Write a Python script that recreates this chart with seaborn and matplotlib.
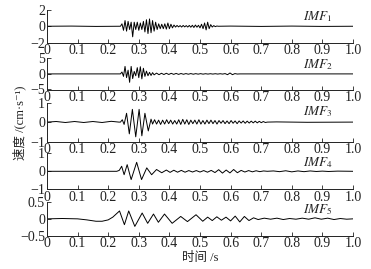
import numpy as np
import pandas as pd
import matplotlib
matplotlib.use("Agg")
import matplotlib.pyplot as plt
import seaborn as sns

# ---------------- data ----------------
x_ticks = [0.0, 0.1, 0.2, 0.3, 0.4, 0.5, 0.6, 0.7, 0.8, 0.9, 1.0]
x_tick_labels = ["0", "0.1", "0.2", "0.3", "0.4", "0.5", "0.6", "0.7", "0.8", "0.9", "1.0"]
panel_names = ["IMF_1", "IMF_2", "IMF_3", "IMF_4", "IMF_5"]
y_limits = [(-2, 2), (-5, 5), (-1, 1), (-1, 1), (-0.5, 0.5)]
y_ticks = [[-2, 0, 2], [-5, 0, 5], [-1, 0, 1], [-1, 0, 1], [-0.5, 0, 0.5]]
y_tick_labels = [["\u22122", "0", "2"], ["\u22125", "0", "5"], ["\u22121", "0", "1"],
                 ["\u22121", "0", "1"], ["\u22120.5", "0", "0.5"]]

# IMF1
imf1_pre_t = [0.0, 0.08, 0.16, 0.235]
imf1_pre_v = [0.0, 0.02, -0.02, 0.0]
imf1_burst_span = (0.24, 0.56)
imf1_burst_v = [0.0, 0.3, -0.5, 0.7, -0.6, 0.6, -0.4, 0.5, -1.3, 0.5, -0.4, 0.5, -0.5,
                0.4, -0.4, 0.6, -0.7, 0.8, -0.9, 0.9, -0.8, 0.7, -0.6, 0.5, -0.4, 0.3,
                -0.3, 0.25, -0.3, 0.3, -0.35, 0.4, -0.3, 0.25, -0.2, 0.15, -0.1, 0.1,
                -0.08, 0.08, -0.1, 0.1, -0.08, 0.08, -0.1, 0.1, -0.12, 0.12, -0.15,
                0.15, -0.12, 0.12, -0.2, 0.25, -0.3, 0.4, -0.45, 0.5, -0.3, 0.2, -0.1,
                0.08, -0.05, 0.03, 0.0]
imf1_tail_t = [0.6, 0.7, 0.8, 0.9, 1.0]
imf1_tail_v = [0.02, -0.02, 0.02, -0.02, 0.0]

# IMF2
imf2_pre_t = [0.0, 0.1, 0.2, 0.235]
imf2_pre_v = [0.0, 0.0, 0.0, 0.0]
imf2_burst_span = (0.24, 0.345)
imf2_burst_v = [0.0, 0.6, -0.8, 2.4, -1.2, 1.2, -2.7, 2.4, -1.5, 0.8, -0.6, 2.0, -1.2,
                2.3, -1.6, 1.8, -0.8, 0.9, -0.6, 0.5, -0.5, 0.4]
imf2_ripple_span = (0.35, 0.63)
imf2_ripple_v = [-0.3, 0.25, -0.25, 0.2, -0.2, 0.2, -0.18, 0.18, -0.15, 0.15, -0.15, 0.12,
                 -0.12, 0.1, -0.1, 0.1, -0.1, 0.08, -0.08, 0.08, -0.08, 0.06, -0.06,
                 0.06, -0.06, 0.06, -0.06, 0.06, -0.06, 0.1, -0.25, 0.3, -0.25, 0.1, -0.05, 0.0]
imf2_tail_t = [0.7, 0.85, 1.0]
imf2_tail_v = [0.0, 0.0, 0.0]

# IMF3
imf3_pre_t = [0.0, 0.03, 0.06, 0.09, 0.12, 0.15, 0.18, 0.21, 0.235]
imf3_pre_v = [0.0, 0.03, -0.02, 0.03, -0.02, 0.03, -0.02, 0.04, 0.0]
imf3_burst_t = [0.240, 0.246, 0.252, 0.260, 0.269, 0.279, 0.290, 0.301, 0.310, 0.320,
                0.331, 0.340]
imf3_burst_v = [0.0, 0.12, -0.12, 0.45, -0.6, 0.65, -0.75, 0.65, -0.7, 0.45, -0.45, 0.15]
imf3_ripple_span = (0.345, 0.72)
imf3_ripple_v = [-0.1, 0.12, -0.1, 0.1, -0.12, 0.1, -0.1, 0.12, -0.08, 0.1,
                 -0.1, 0.08, -0.1, 0.12, -0.12, 0.14, -0.1, 0.12, -0.12, 0.1,
                 -0.08, 0.1, -0.1, 0.12, -0.1, 0.08, -0.1, 0.1, -0.08, 0.1,
                 -0.08, 0.08, -0.1, 0.08, -0.06, 0.08, -0.08, 0.06, -0.08, 0.08,
                 -0.06, 0.06, -0.08, 0.06, -0.05, 0.06, -0.06, 0.05, -0.05, 0.05,
                 -0.04, 0.05, -0.04, 0.04, -0.03, 0.03, -0.02, 0.0]
imf3_tail_t = [0.75, 0.85, 1.0]
imf3_tail_v = [0.01, -0.01, 0.0]

# IMF4
imf4_pre_t = [0.0, 0.1, 0.2, 0.228]
imf4_pre_v = [0.0, 0.0, 0.0, 0.0]
imf4_burst_t = [0.236, 0.244, 0.252, 0.262, 0.275, 0.293, 0.309, 0.326, 0.342, 0.358,
                0.375]
imf4_burst_v = [0.05, 0.28, -0.19, 0.37, -0.46, 0.5, -0.46, 0.19, -0.19, 0.1, -0.08]
imf4_ripple_span = (0.39, 0.72)
imf4_ripple_v = [0.07, -0.06, 0.06, -0.05, 0.05, -0.05, 0.04, -0.04, 0.04, -0.04, 0.04,
                 -0.05, 0.05, -0.07, 0.09, -0.1, 0.07, -0.09, 0.1, -0.08, 0.05, -0.04,
                 0.04, -0.03, 0.03, -0.02, 0.02, 0.0]
imf4_tail_t = [0.74, 0.76, 0.78, 0.80, 0.82, 0.84, 0.86, 0.88, 0.90, 0.92, 0.95, 1.0]
imf4_tail_v = [0.02, -0.02, 0.03, -0.03, 0.02, -0.02, 0.02, -0.01, 0.01, -0.01, 0.01, 0.0]

# IMF5
imf5_main_t = [0.0, 0.05, 0.10, 0.13, 0.16, 0.18, 0.20, 0.215, 0.237, 0.253, 0.267,
               0.287, 0.311, 0.329, 0.348, 0.364, 0.384, 0.409, 0.437, 0.459, 0.487,
               0.509, 0.525, 0.54, 0.555, 0.57, 0.585, 0.60, 0.615, 0.63, 0.645, 0.66,
               0.675, 0.69]
imf5_main_v = [0.0, 0.01, 0.0, -0.03, -0.07, -0.07, -0.03, 0.05, 0.23, -0.17, 0.23,
               -0.22, 0.17, -0.13, 0.14, -0.10, 0.14, -0.13, 0.07, -0.08, 0.12, -0.07,
               0.05, -0.05, 0.06, -0.04, 0.05, -0.06, 0.08, -0.09, 0.07, -0.05, 0.03,
               -0.02]
imf5_tail_span = (0.71, 1.0)
imf5_tail_v = [0.02, -0.01, 0.02, -0.02, 0.01, -0.01, 0.02, -0.01, 0.03, -0.01, 0.02,
               -0.02, 0.01, -0.01, 0.0]


def span_times(span, values):
    return list(np.linspace(span[0], span[1], len(values)))


series = [
    (imf1_pre_t + span_times(imf1_burst_span, imf1_burst_v) + imf1_tail_t,
     imf1_pre_v + imf1_burst_v + imf1_tail_v),
    (imf2_pre_t + span_times(imf2_burst_span, imf2_burst_v)
     + span_times(imf2_ripple_span, imf2_ripple_v) + imf2_tail_t,
     imf2_pre_v + imf2_burst_v + imf2_ripple_v + imf2_tail_v),
    (imf3_pre_t + imf3_burst_t + span_times(imf3_ripple_span, imf3_ripple_v) + imf3_tail_t,
     imf3_pre_v + imf3_burst_v + imf3_ripple_v + imf3_tail_v),
    (imf4_pre_t + imf4_burst_t + span_times(imf4_ripple_span, imf4_ripple_v) + imf4_tail_t,
     imf4_pre_v + imf4_burst_v + imf4_ripple_v + imf4_tail_v),
    (imf5_main_t + span_times(imf5_tail_span, imf5_tail_v),
     imf5_main_v + imf5_tail_v),
]

# ---------------- style ----------------
sns.set_style("ticks")
plt.rcParams["font.family"] = ["Liberation Serif", "Noto Sans CJK SC", "DejaVu Sans"]
plt.rcParams["mathtext.fontset"] = "stix"
plt.rcParams["axes.unicode_minus"] = True

fig = plt.figure(figsize=(3.71, 2.69), dpi=100)
fig.patch.set_facecolor("white")

W, H = 371.0, 269.0
left_px, right_px = 47.0, 353.0
panel_px = [(10.0, 42.5), (58.3, 89.5), (102.5, 141.7), (153.3, 189.3), (201.7, 236.0)]
label_y = [0.80, 0.80, 0.76, 0.74, 0.77]

for i, ((t, v), (top, bot)) in enumerate(zip(series, panel_px)):
    ax = fig.add_axes([left_px / W, 1 - bot / H, (right_px - left_px) / W, (bot - top) / H])
    df = pd.DataFrame({"t": t, "v": v})
    sns.lineplot(data=df, x="t", y="v", ax=ax, color="black", linewidth=0.7,
                 estimator=None, sort=True)
    ax.set_xlim(0, 1.0)
    ax.set_ylim(*y_limits[i])
    ax.set_xticks(x_ticks)
    ax.set_xticklabels(x_tick_labels)
    ax.set_yticks(y_ticks[i])
    ax.set_yticklabels(y_tick_labels[i])
    ax.set_xlabel("")
    ax.set_ylabel("")
    for s in ["top", "right"]:
        ax.spines[s].set_visible(False)
    for s in ["left", "bottom"]:
        ax.spines[s].set_linewidth(0.7)
        ax.spines[s].set_color("#222222")
    ax.tick_params(direction="in", length=3, width=0.6, labelsize=10, pad=1.0,
                   colors="#222222")
    ax.tick_params(axis="y", pad=1.5)
    ax.patch.set_alpha(0)
    ax.text(0.885, label_y[i], "$" + panel_names[i] + "$", transform=ax.transAxes,
            ha="center", va="center", fontsize=9.5, color="#222222")

fig.text(19 / W, 1 - 123 / H, "速度 /(cm·s\u207b\u00b9)", rotation=90, ha="center",
         va="center", fontsize=9, color="#222222")
fig.text(200 / W, 1 - 258 / H, "时间 /s", ha="center", va="center", fontsize=9,
         color="#222222")

fig.savefig("out.png", dpi=100, facecolor="white")
